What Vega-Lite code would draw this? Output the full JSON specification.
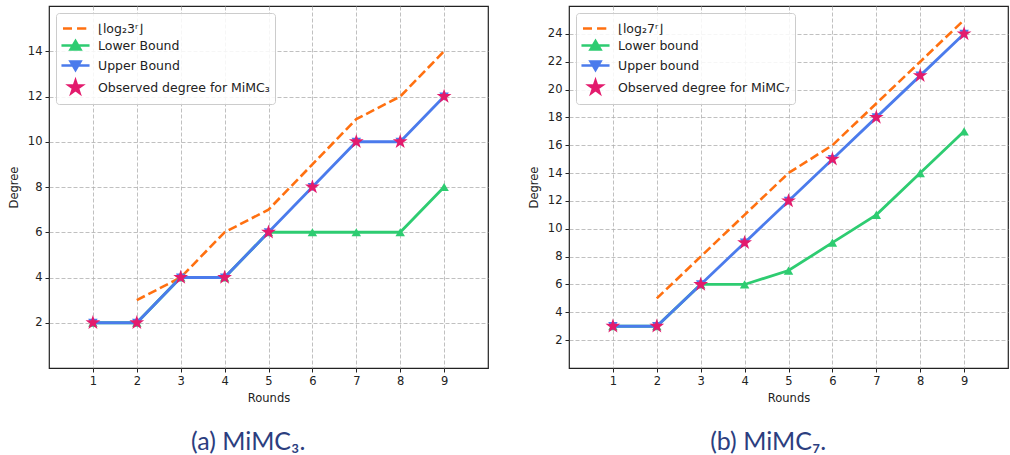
{
  "$schema": "https://vega.github.io/schema/vega-lite/v6.json",
  "background": "white",
  "padding": {"left": 7, "top": 5, "right": 0, "bottom": 0},
  "spacing": 38,
  "datasets": {
    "a": [
      {"round": 2, "degree": 3, "series": "⌊log₂3ʳ⌋"},
      {"round": 3, "degree": 4, "series": "⌊log₂3ʳ⌋"},
      {"round": 4, "degree": 6, "series": "⌊log₂3ʳ⌋"},
      {"round": 5, "degree": 7, "series": "⌊log₂3ʳ⌋"},
      {"round": 6, "degree": 9, "series": "⌊log₂3ʳ⌋"},
      {"round": 7, "degree": 11, "series": "⌊log₂3ʳ⌋"},
      {"round": 8, "degree": 12, "series": "⌊log₂3ʳ⌋"},
      {"round": 9, "degree": 14, "series": "⌊log₂3ʳ⌋"},
      {"round": 1, "degree": 2, "series": "Lower Bound"},
      {"round": 2, "degree": 2, "series": "Lower Bound"},
      {"round": 3, "degree": 4, "series": "Lower Bound"},
      {"round": 4, "degree": 4, "series": "Lower Bound"},
      {"round": 5, "degree": 6, "series": "Lower Bound"},
      {"round": 6, "degree": 6, "series": "Lower Bound"},
      {"round": 7, "degree": 6, "series": "Lower Bound"},
      {"round": 8, "degree": 6, "series": "Lower Bound"},
      {"round": 9, "degree": 8, "series": "Lower Bound"},
      {"round": 1, "degree": 2, "series": "Upper Bound"},
      {"round": 2, "degree": 2, "series": "Upper Bound"},
      {"round": 3, "degree": 4, "series": "Upper Bound"},
      {"round": 4, "degree": 4, "series": "Upper Bound"},
      {"round": 5, "degree": 6, "series": "Upper Bound"},
      {"round": 6, "degree": 8, "series": "Upper Bound"},
      {"round": 7, "degree": 10, "series": "Upper Bound"},
      {"round": 8, "degree": 10, "series": "Upper Bound"},
      {"round": 9, "degree": 12, "series": "Upper Bound"},
      {"round": 1, "degree": 2, "series": "Observed degree for MiMC₃"},
      {"round": 2, "degree": 2, "series": "Observed degree for MiMC₃"},
      {"round": 3, "degree": 4, "series": "Observed degree for MiMC₃"},
      {"round": 4, "degree": 4, "series": "Observed degree for MiMC₃"},
      {"round": 5, "degree": 6, "series": "Observed degree for MiMC₃"},
      {"round": 6, "degree": 8, "series": "Observed degree for MiMC₃"},
      {"round": 7, "degree": 10, "series": "Observed degree for MiMC₃"},
      {"round": 8, "degree": 10, "series": "Observed degree for MiMC₃"},
      {"round": 9, "degree": 12, "series": "Observed degree for MiMC₃"}
    ],
    "b": [
      {"round": 2, "degree": 5, "series": "⌊log₂7ʳ⌋"},
      {"round": 3, "degree": 8, "series": "⌊log₂7ʳ⌋"},
      {"round": 4, "degree": 11, "series": "⌊log₂7ʳ⌋"},
      {"round": 5, "degree": 14, "series": "⌊log₂7ʳ⌋"},
      {"round": 6, "degree": 16, "series": "⌊log₂7ʳ⌋"},
      {"round": 7, "degree": 19, "series": "⌊log₂7ʳ⌋"},
      {"round": 8, "degree": 22, "series": "⌊log₂7ʳ⌋"},
      {"round": 9, "degree": 25, "series": "⌊log₂7ʳ⌋"},
      {"round": 1, "degree": 3, "series": "Lower bound"},
      {"round": 2, "degree": 3, "series": "Lower bound"},
      {"round": 3, "degree": 6, "series": "Lower bound"},
      {"round": 4, "degree": 6, "series": "Lower bound"},
      {"round": 5, "degree": 7, "series": "Lower bound"},
      {"round": 6, "degree": 9, "series": "Lower bound"},
      {"round": 7, "degree": 11, "series": "Lower bound"},
      {"round": 8, "degree": 14, "series": "Lower bound"},
      {"round": 9, "degree": 17, "series": "Lower bound"},
      {"round": 1, "degree": 3, "series": "Upper bound"},
      {"round": 2, "degree": 3, "series": "Upper bound"},
      {"round": 3, "degree": 6, "series": "Upper bound"},
      {"round": 4, "degree": 9, "series": "Upper bound"},
      {"round": 5, "degree": 12, "series": "Upper bound"},
      {"round": 6, "degree": 15, "series": "Upper bound"},
      {"round": 7, "degree": 18, "series": "Upper bound"},
      {"round": 8, "degree": 21, "series": "Upper bound"},
      {"round": 9, "degree": 24, "series": "Upper bound"},
      {"round": 1, "degree": 3, "series": "Observed degree for MiMC₇"},
      {"round": 2, "degree": 3, "series": "Observed degree for MiMC₇"},
      {"round": 3, "degree": 6, "series": "Observed degree for MiMC₇"},
      {"round": 4, "degree": 9, "series": "Observed degree for MiMC₇"},
      {"round": 5, "degree": 12, "series": "Observed degree for MiMC₇"},
      {"round": 6, "degree": 15, "series": "Observed degree for MiMC₇"},
      {"round": 7, "degree": 18, "series": "Observed degree for MiMC₇"},
      {"round": 8, "degree": 21, "series": "Observed degree for MiMC₇"},
      {"round": 9, "degree": 24, "series": "Observed degree for MiMC₇"}
    ]
  },
  "hconcat": [
    {
      "width": 439,
      "height": 362,
      "data": {"name": "a"},
      "title": {"text": "(a) MiMC₃.", "orient": "bottom", "frame": "bounds", "anchor": "middle", "offset": 26, "font": "Lato, DejaVu Sans", "fontSize": 25, "fontWeight": "normal", "color": "#2c3e7f"},
      "encoding": {
        "x": {"field": "round", "type": "quantitative", "scale": {"domain": [0, 10], "nice": false, "zero": false}, "axis": {"values": [1, 2, 3, 4, 5, 6, 7, 8, 9], "title": "Rounds"}},
        "y": {"field": "degree", "type": "quantitative", "scale": {"domain": [0, 16], "nice": false, "zero": false}, "axis": {"values": [2, 4, 6, 8, 10, 12, 14], "title": "Degree"}}
      },
      "layer": [
        {
          "mark": {"type": "point", "filled": true, "opacity": 0, "size": 324},
          "encoding": {
            "shape": {"field": "series", "type": "nominal", "scale": {"domain": ["⌊log₂3ʳ⌋", "Lower Bound", "Upper Bound", "Observed degree for MiMC₃"], "range": ["M-1.39,0H-0.39M0.17,0H1.2", "M-1.56,0H1.56M-0.56,0.45L0,-0.5L0.56,0.45Z", "M-1.56,0H1.56M-0.56,-0.45L0,0.5L0.56,-0.45Z", "M0,-0.76L0.173,-0.237L0.722,-0.235L0.279,0.091L0.446,0.614L0,0.29L-0.446,0.614L-0.279,0.091L-0.722,-0.235L-0.173,-0.237Z"]}, "legend": {"title": null, "orient": "top-left", "offset": 7, "padding": 5, "fillColor": "rgba(255,255,255,0.85)", "strokeColor": "#cccccc", "cornerRadius": 3, "labelFont": "DejaVu Sans", "labelFontSize": 12.5, "labelColor": "#222222", "symbolSize": 324, "symbolStrokeWidth": 2.5, "symbolOpacity": 1, "symbolOffset": 4, "rowPadding": 0, "labelOffset": 12, "labelLimit": 300}},
            "fill": {"field": "series", "type": "nominal", "scale": {"domain": ["⌊log₂3ʳ⌋", "Lower Bound", "Upper Bound", "Observed degree for MiMC₃"], "range": ["#ff7010", "#2ecc71", "#4b7bec", "#e31b6d"]}, "legend": {"title": null, "orient": "top-left", "offset": 7, "padding": 5, "fillColor": "rgba(255,255,255,0.85)", "strokeColor": "#cccccc", "cornerRadius": 3, "labelFont": "DejaVu Sans", "labelFontSize": 12.5, "labelColor": "#222222", "symbolSize": 324, "symbolStrokeWidth": 2.5, "symbolOpacity": 1, "symbolOffset": 4, "rowPadding": 0, "labelOffset": 12, "labelLimit": 300}},
            "stroke": {"field": "series", "type": "nominal", "scale": {"domain": ["⌊log₂3ʳ⌋", "Lower Bound", "Upper Bound", "Observed degree for MiMC₃"], "range": ["#ff7010", "#2ecc71", "#4b7bec", "#e31b6d"]}, "legend": {"title": null, "orient": "top-left", "offset": 7, "padding": 5, "fillColor": "rgba(255,255,255,0.85)", "strokeColor": "#cccccc", "cornerRadius": 3, "labelFont": "DejaVu Sans", "labelFontSize": 12.5, "labelColor": "#222222", "symbolSize": 324, "symbolStrokeWidth": 2.5, "symbolOpacity": 1, "symbolOffset": 4, "rowPadding": 0, "labelOffset": 12, "labelLimit": 300}}
          }
        },
        {
          "transform": [{"filter": {"field": "series", "equal": "⌊log₂3ʳ⌋"}}],
          "mark": {"type": "line", "color": "#ff7010", "strokeWidth": 2.6, "strokeDash": [9, 4]},
          "encoding": {}
        },
        {
          "transform": [{"filter": {"field": "series", "equal": "Lower Bound"}}],
          "mark": {"type": "line", "color": "#2ecc71", "strokeWidth": 2.8, "point": {"shape": "triangle-up", "size": 90, "filled": true, "color": "#2ecc71"}},
          "encoding": {}
        },
        {
          "transform": [{"filter": {"field": "series", "equal": "Upper Bound"}}],
          "mark": {"type": "line", "color": "#4b7bec", "strokeWidth": 2.8, "point": {"shape": "triangle-down", "size": 90, "filled": true, "color": "#4b7bec"}},
          "encoding": {}
        },
        {
          "transform": [{"filter": {"field": "series", "equal": "Observed degree for MiMC₃"}}],
          "mark": {"type": "point", "shape": "M0,-0.55L0.125,-0.172L0.523,-0.17L0.202,0.066L0.323,0.445L0,0.21L-0.323,0.445L-0.202,0.066L-0.523,-0.17L-0.125,-0.172Z", "size": 800, "filled": true, "color": "#e31b6d", "opacity": 1},
          "encoding": {}
        }
      ]
    },
    {
      "width": 439,
      "height": 362,
      "data": {"name": "b"},
      "title": {"text": "(b) MiMC₇.", "orient": "bottom", "frame": "bounds", "anchor": "middle", "offset": 26, "font": "Lato, DejaVu Sans", "fontSize": 25, "fontWeight": "normal", "color": "#2c3e7f"},
      "encoding": {
        "x": {"field": "round", "type": "quantitative", "scale": {"domain": [0, 10], "nice": false, "zero": false}, "axis": {"values": [1, 2, 3, 4, 5, 6, 7, 8, 9], "title": "Rounds"}},
        "y": {"field": "degree", "type": "quantitative", "scale": {"domain": [0, 26], "nice": false, "zero": false}, "axis": {"values": [2, 4, 6, 8, 10, 12, 14, 16, 18, 20, 22, 24], "title": "Degree"}}
      },
      "layer": [
        {
          "mark": {"type": "point", "filled": true, "opacity": 0, "size": 324},
          "encoding": {
            "shape": {"field": "series", "type": "nominal", "scale": {"domain": ["⌊log₂7ʳ⌋", "Lower bound", "Upper bound", "Observed degree for MiMC₇"], "range": ["M-1.39,0H-0.39M0.17,0H1.2", "M-1.56,0H1.56M-0.56,0.45L0,-0.5L0.56,0.45Z", "M-1.56,0H1.56M-0.56,-0.45L0,0.5L0.56,-0.45Z", "M0,-0.76L0.173,-0.237L0.722,-0.235L0.279,0.091L0.446,0.614L0,0.29L-0.446,0.614L-0.279,0.091L-0.722,-0.235L-0.173,-0.237Z"]}, "legend": {"title": null, "orient": "top-left", "offset": 7, "padding": 5, "fillColor": "rgba(255,255,255,0.85)", "strokeColor": "#cccccc", "cornerRadius": 3, "labelFont": "DejaVu Sans", "labelFontSize": 12.5, "labelColor": "#222222", "symbolSize": 324, "symbolStrokeWidth": 2.5, "symbolOpacity": 1, "symbolOffset": 4, "rowPadding": 0, "labelOffset": 12, "labelLimit": 300}},
            "fill": {"field": "series", "type": "nominal", "scale": {"domain": ["⌊log₂7ʳ⌋", "Lower bound", "Upper bound", "Observed degree for MiMC₇"], "range": ["#ff7010", "#2ecc71", "#4b7bec", "#e31b6d"]}, "legend": {"title": null, "orient": "top-left", "offset": 7, "padding": 5, "fillColor": "rgba(255,255,255,0.85)", "strokeColor": "#cccccc", "cornerRadius": 3, "labelFont": "DejaVu Sans", "labelFontSize": 12.5, "labelColor": "#222222", "symbolSize": 324, "symbolStrokeWidth": 2.5, "symbolOpacity": 1, "symbolOffset": 4, "rowPadding": 0, "labelOffset": 12, "labelLimit": 300}},
            "stroke": {"field": "series", "type": "nominal", "scale": {"domain": ["⌊log₂7ʳ⌋", "Lower bound", "Upper bound", "Observed degree for MiMC₇"], "range": ["#ff7010", "#2ecc71", "#4b7bec", "#e31b6d"]}, "legend": {"title": null, "orient": "top-left", "offset": 7, "padding": 5, "fillColor": "rgba(255,255,255,0.85)", "strokeColor": "#cccccc", "cornerRadius": 3, "labelFont": "DejaVu Sans", "labelFontSize": 12.5, "labelColor": "#222222", "symbolSize": 324, "symbolStrokeWidth": 2.5, "symbolOpacity": 1, "symbolOffset": 4, "rowPadding": 0, "labelOffset": 12, "labelLimit": 300}}
          }
        },
        {
          "transform": [{"filter": {"field": "series", "equal": "⌊log₂7ʳ⌋"}}],
          "mark": {"type": "line", "color": "#ff7010", "strokeWidth": 2.6, "strokeDash": [9, 4]},
          "encoding": {}
        },
        {
          "transform": [{"filter": {"field": "series", "equal": "Lower bound"}}],
          "mark": {"type": "line", "color": "#2ecc71", "strokeWidth": 2.8, "point": {"shape": "triangle-up", "size": 90, "filled": true, "color": "#2ecc71"}},
          "encoding": {}
        },
        {
          "transform": [{"filter": {"field": "series", "equal": "Upper bound"}}],
          "mark": {"type": "line", "color": "#4b7bec", "strokeWidth": 2.8, "point": {"shape": "triangle-down", "size": 90, "filled": true, "color": "#4b7bec"}},
          "encoding": {}
        },
        {
          "transform": [{"filter": {"field": "series", "equal": "Observed degree for MiMC₇"}}],
          "mark": {"type": "point", "shape": "M0,-0.55L0.125,-0.172L0.523,-0.17L0.202,0.066L0.323,0.445L0,0.21L-0.323,0.445L-0.202,0.066L-0.523,-0.17L-0.125,-0.172Z", "size": 800, "filled": true, "color": "#e31b6d", "opacity": 1},
          "encoding": {}
        }
      ]
    }
  ],
  "resolve": {
    "scale": {"shape": "independent", "fill": "independent", "stroke": "independent"},
    "legend": {"shape": "independent", "fill": "independent", "stroke": "independent"}
  },
  "config": {
    "font": "DejaVu Sans",
    "view": {"stroke": "#222222", "strokeWidth": 1.2},
    "axis": {"labelFont": "DejaVu Sans", "labelFontSize": 11.5, "labelColor": "#222222", "titleFont": "DejaVu Sans", "titleFontSize": 11.5, "titleFontWeight": "normal", "titleColor": "#222222", "tickColor": "#222222", "tickSize": 4, "labelPadding": 3, "domain": false, "grid": true, "gridColor": "#b0b0b0", "gridDash": [4, 2], "gridWidth": 0.8},
    "axisX": {"titlePadding": 6},
    "axisY": {"titlePadding": 8}
  }
}
